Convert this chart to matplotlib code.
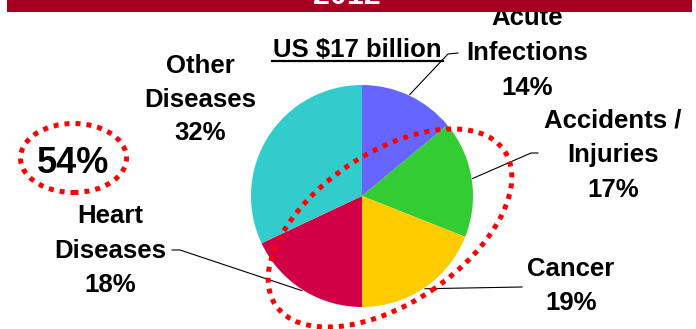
import matplotlib
matplotlib.use("Agg")
import matplotlib.pyplot as plt
from matplotlib.patches import Ellipse, Rectangle
import numpy as np

# Spending by disease category, 2012
year = "2012"
total_label = "US $17 billion"
categories = ["Acute\nInfections", "Accidents /\nInjuries", "Cancer",
              "Heart\nDiseases", "Other\nDiseases"]
shares = [14, 17, 19, 18, 32]
colors = ["#6666FF", "#33CC33", "#FFCC00", "#D10046", "#33CCCC"]
highlight_share = 54

W, H = 696, 329
DPI = 100
FONT = "Liberation Sans"


def Y(y):
    """Convert a top-down pixel row to data y."""
    return H - y


fig = plt.figure(figsize=(W / DPI, H / DPI), dpi=DPI)
ax = fig.add_axes([0, 0, 1, 1])

# Pie
cx, cy, r = 362, Y(196), 111
wedges, _ = ax.pie(shares, colors=colors, startangle=90, counterclock=False,
                   center=(cx, cy), radius=r,
                   wedgeprops=dict(linewidth=0))

ax.set_xlim(0, W)
ax.set_ylim(0, H)
ax.set_aspect("equal")
ax.axis("off")

txt = dict(fontfamily=FONT, fontweight="bold", fontsize=18.5, color="black",
           ha="center", va="baseline")

# Label lines (x, baseline rows) for each category
label_layout = [
    (527, [25, 60, 95]),
    (613, [127, 162, 197]),
    (571, [276, 310]),
    (110, [223, 258, 292]),
    (200, [73, 107, 140]),
]
# Leader elbows (pixel coords) from the wedge edge to each label
leaders = [
    [(448, 54), (458, 53)],
    [(531, 153), (538, 153)],
    [(522, 287)],
    [(180, 250), (172, 250)],
    None,
]

for w, cat, val, (lx, rows), lead in zip(wedges, categories, shares,
                                          label_layout, leaders):
    lines = cat.split("\n") + [f"{val}%"]
    for line, row in zip(lines, rows):
        ax.text(lx, Y(row), line, zorder=3, **txt)
    if lead is not None:
        mid = np.deg2rad((w.theta1 + w.theta2) / 2)
        ex, ey = cx + r * 1.01 * np.cos(mid), cy + r * 1.01 * np.sin(mid)
        xs = [ex] + [p[0] for p in lead]
        ys = [ey] + [Y(p[1]) for p in lead]
        ax.plot(xs, ys, color="black", lw=0.8, zorder=3)

# Title with underline
ax.text(357.5, Y(57), total_label, zorder=3, **txt)
ax.plot([272, 443], [Y(61), Y(61)], color="black", lw=1.6, zorder=3)

# Highlighted combined share
ax.text(73.5, Y(173), f"{highlight_share}%", fontfamily=FONT,
        fontweight="bold", fontsize=26, ha="center", va="baseline", zorder=3)

dot = dict(fill=False, edgecolor="#FF0000", lw=3.6,
           linestyle=(0, (1, 1.2)), capstyle="butt", zorder=4)
ax.add_patch(Ellipse((73.5, Y(158)), 106, 69, **dot))
ax.add_patch(Ellipse((390, Y(228)), 276, 150, angle=34, **dot))

# Header banner
ax.add_patch(Rectangle((7, Y(12)), 685, 12, facecolor="#A50021",
                       edgecolor="none", zorder=5))
ax.text(347, Y(4), year, fontfamily=FONT, fontweight="bold", fontsize=22,
        color="white", ha="center", va="baseline", zorder=6)

fig.savefig("out.png", dpi=DPI)
